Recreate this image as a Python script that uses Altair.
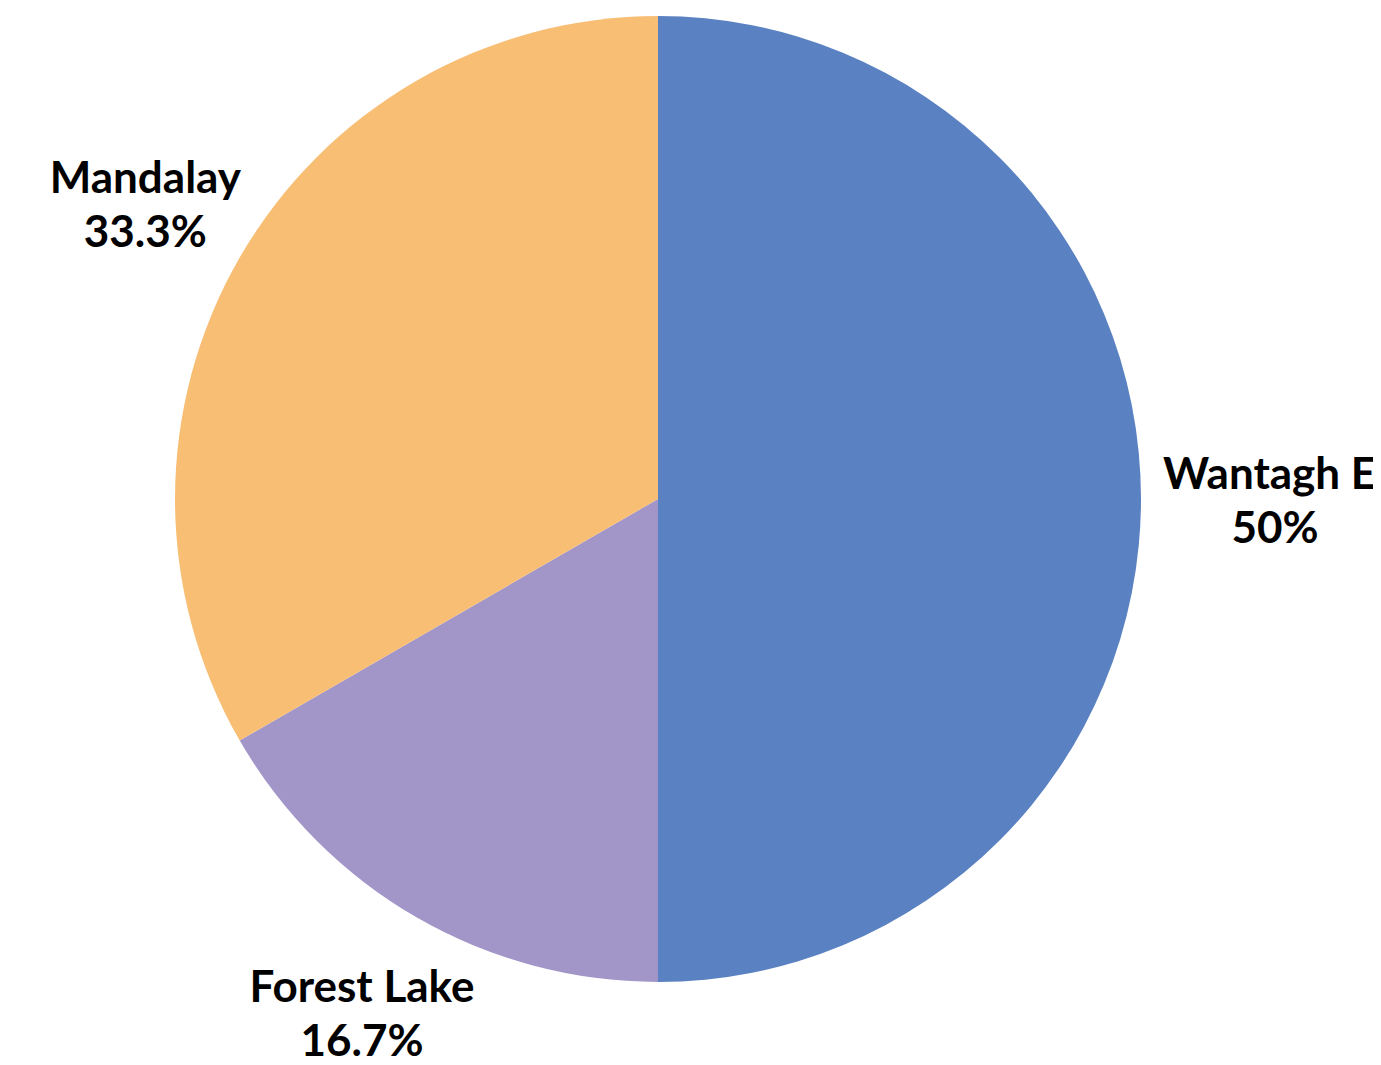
import altair as alt
import pandas as pd

schools = ["Wantagh El", "Forest Lake", "Mandalay"]
counts = [3, 1, 2]
order = [0, 1, 2]
colors = ["#5A81C1", "#A295C8", "#F7BE74"]

df = pd.DataFrame({"school": schools, "count": counts, "ord": order})

base = alt.Chart(df).transform_joinaggregate(
    total="sum(count)"
).transform_stack(
    stack="count", groupby=[], as_=["start", "end"],
    sort=[alt.SortField("ord", order="ascending")],
).transform_calculate(
    mid="(datum.start + datum.end) / 2",
    label="datum.school + '\\n' + format(datum.count / datum.total, '.3~p')",
).encode(
    x=alt.value(650),
    y=alt.value(491),
)

theta_scale = alt.Scale(domain=[0, 6])

arcs = base.mark_arc(outerRadius=483, stroke=None).encode(
    theta=alt.Theta("start:Q", scale=theta_scale, stack=None),
    theta2="end:Q",
    color=alt.Color("school:N", scale=alt.Scale(domain=schools, range=colors), legend=None),
)

text_style = dict(
    font="Lato",
    fontWeight="bold",
    fontSize=44,
    lineBreak="\n",
    lineHeight=54,
    align="center",
    baseline="middle",
    color="#000000",
    dy=-23,
)

labels_left = base.mark_text(radius=592, **text_style).encode(
    theta=alt.Theta("mid:Q", scale=theta_scale, stack=None),
    text="label:N",
).transform_filter("datum.school != 'Wantagh El'")

labels_right = base.mark_text(radius=592, dx=25, **text_style).encode(
    theta=alt.Theta("mid:Q", scale=theta_scale, stack=None),
    text="label:N",
).transform_filter("datum.school == 'Wantagh El'")

chart = (arcs + labels_left + labels_right).properties(
    width=1365, height=1049, padding=0,
    autosize=alt.AutoSizeParams(type="none"),
).configure_view(stroke=None)

chart.save("out.html", embed_options={"renderer": "svg", "actions": False})
